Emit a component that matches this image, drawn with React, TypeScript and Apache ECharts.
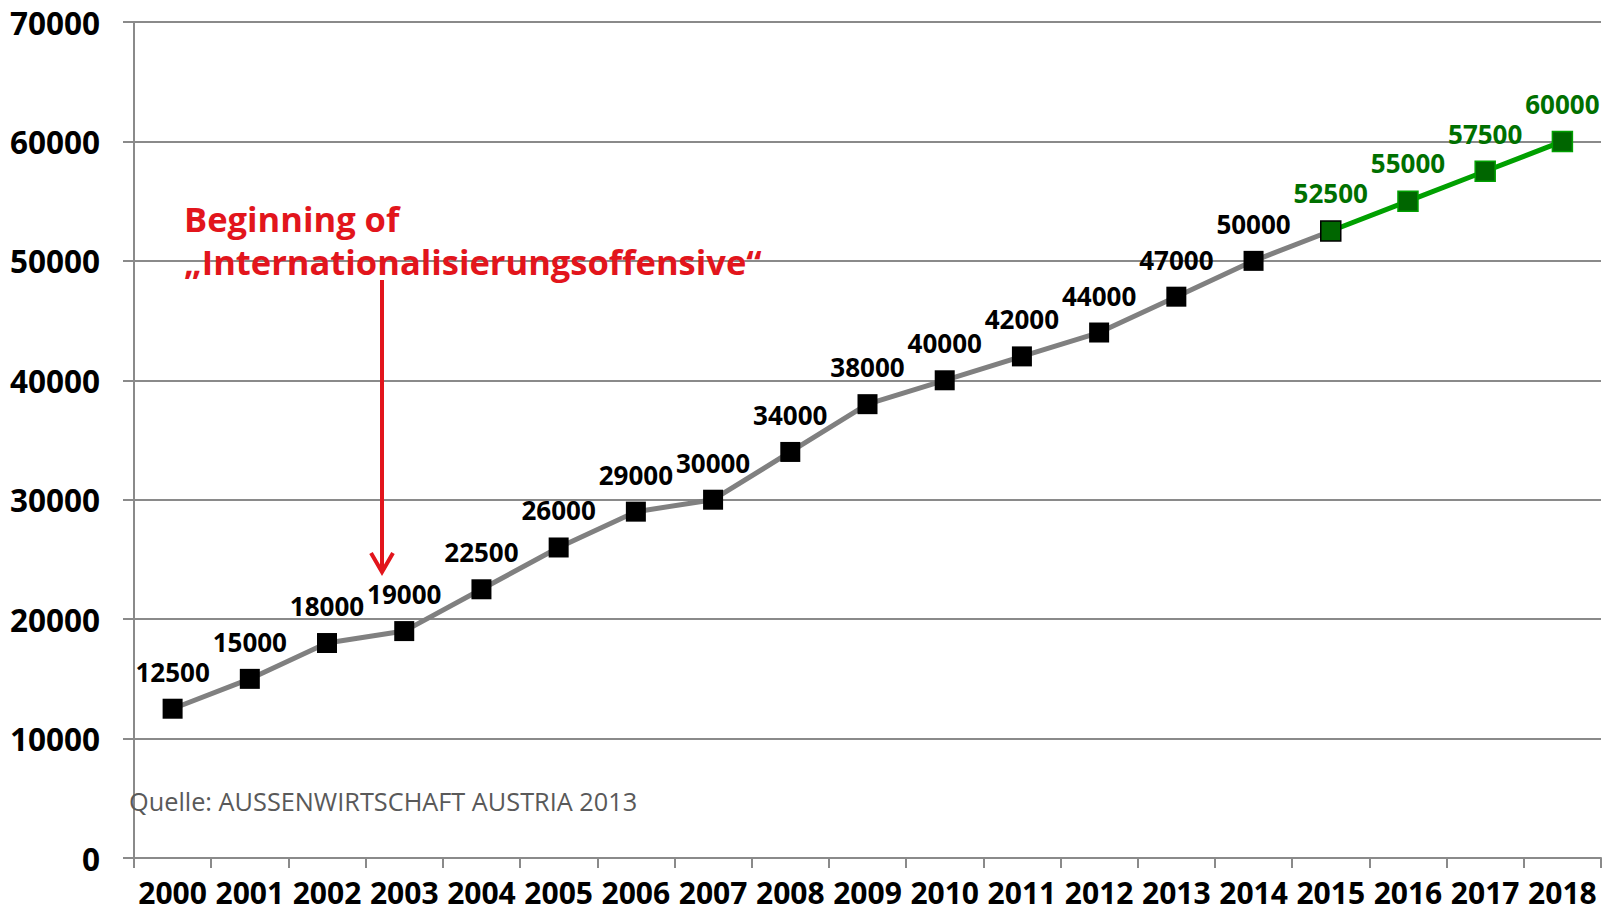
import React, { useEffect, useRef } from "react";
import * as echarts from "echarts";

const years = ["2000","2001","2002","2003","2004","2005","2006","2007","2008","2009","2010","2011","2012","2013","2014","2015","2016","2017","2018"];
// 2000 – 2015 (actual)
const actualValues = [12500,15000,18000,19000,22500,26000,29000,30000,34000,38000,40000,42000,44000,47000,50000,52500];
// 2015 – 2018 (forecast)
const forecastValues = [52500,55000,57500,60000];
const yMin = 0;
const yMax = 70000;
const yInterval = 10000;

const annotationLine1 = "Beginning of";
const annotationLine2 = "\u201EInternationalisierungsoffensive\u201C";
const sourceText = "Quelle: AUSSENWIRTSCHAFT AUSTRIA 2013";

const FONT = "'Open Sans', sans-serif";
const RED = "#e2151c";
const GREEN_LINE = "#00a000";
const GREEN_FILL = "#006600";
const GREEN_TEXT = "#007000";

export default function App() {
  const ref = useRef<HTMLDivElement>(null);
  useEffect(() => {
    if (!ref.current) return;
    const chart = echarts.init(ref.current, null, { renderer: "svg" });
    const forecastStart = actualValues.length - 1;
    const grayData = years.map((_, i) => {
      if (i >= actualValues.length) return null;
      if (i === forecastStart) return { value: actualValues[i], label: { show: false }, symbol: "none" };
      return actualValues[i];
    });
    const greenData = years.map((_, i) => {
      if (i < forecastStart) return null;
      const v = forecastValues[i - forecastStart];
      if (i === forecastStart) return { value: v, itemStyle: { borderColor: "#000", borderWidth: 1.5 } };
      return v;
    });
    const labelBase = {
      show: true,
      position: "top",
      distance: 14,
      fontFamily: FONT,
      fontWeight: "bold",
      fontSize: 26,
    };
    chart.setOption({
      animation: false,
      backgroundColor: "#fff",
      grid: { left: 134, right: 14, top: 22, bottom: 55, containLabel: false },
      xAxis: {
        type: "category",
        data: years,
        boundaryGap: true,
        axisLine: { lineStyle: { color: "#8a8a8a", width: 2 } },
        axisTick: { show: true, length: 10, lineStyle: { color: "#8a8a8a", width: 2 } },
        axisLabel: {
          color: "#000",
          fontFamily: FONT,
          fontWeight: "bold",
          fontSize: 30,
          lineHeight: 26,
          margin: 21,
          interval: 0,
        },
      },
      yAxis: {
        type: "value",
        min: yMin,
        max: yMax,
        interval: yInterval,
        axisLine: { show: true, lineStyle: { color: "#8a8a8a", width: 2 } },
        axisTick: { show: true, length: 11, lineStyle: { color: "#8a8a8a", width: 2 } },
        splitLine: { lineStyle: { color: "#8a8a8a", width: 2 } },
        axisLabel: {
          color: "#000",
          fontFamily: FONT,
          fontWeight: "bold",
          fontSize: 31.5,
          margin: 34,
          formatter: (v: number) => String(v),
        },
      },
      series: [
        {
          type: "line",
          data: grayData,
          symbol: "rect",
          symbolSize: 20,
          connectNulls: false,
          lineStyle: { color: "#808080", width: 5 },
          itemStyle: { color: "#000" },
          label: { ...labelBase, color: "#000" },
          z: 2,
        },
        {
          type: "line",
          data: greenData,
          symbol: "rect",
          symbolSize: 20,
          connectNulls: false,
          lineStyle: { color: GREEN_LINE, width: 5 },
          itemStyle: { color: GREEN_FILL, borderColor: GREEN_LINE, borderWidth: 1.5 },
          label: { ...labelBase, color: GREEN_TEXT },
          z: 3,
        },
      ],
      graphic: [
        {
          type: "text",
          left: 184,
          top: 201,
          style: { text: annotationLine1, fill: RED, font: `bold 34.5px ${FONT}` },
          z: 10,
        },
        {
          type: "text",
          left: 184,
          top: 244,
          style: { text: annotationLine2, fill: RED, font: `bold 34.5px ${FONT}` },
          z: 10,
        },
        {
          type: "line",
          shape: { x1: 382, y1: 280, x2: 382, y2: 571 },
          style: { stroke: RED, lineWidth: 4 },
          z: 10,
        },
        {
          type: "polyline",
          shape: { points: [[371, 553], [382, 572], [393, 553]] },
          style: { stroke: RED, lineWidth: 4, fill: "none" },
          z: 10,
        },
        {
          type: "text",
          left: 129,
          top: 788,
          style: { text: sourceText, fill: "#595959", font: `25.3px ${FONT}` },
          z: 10,
        },
      ],
    });
    return () => chart.dispose();
  }, []);
  return (
    <div
      ref={ref}
      style={{ position: "fixed", left: 0, top: 0, width: 1615, height: 913, background: "#fff" }}
    />
  );
}
